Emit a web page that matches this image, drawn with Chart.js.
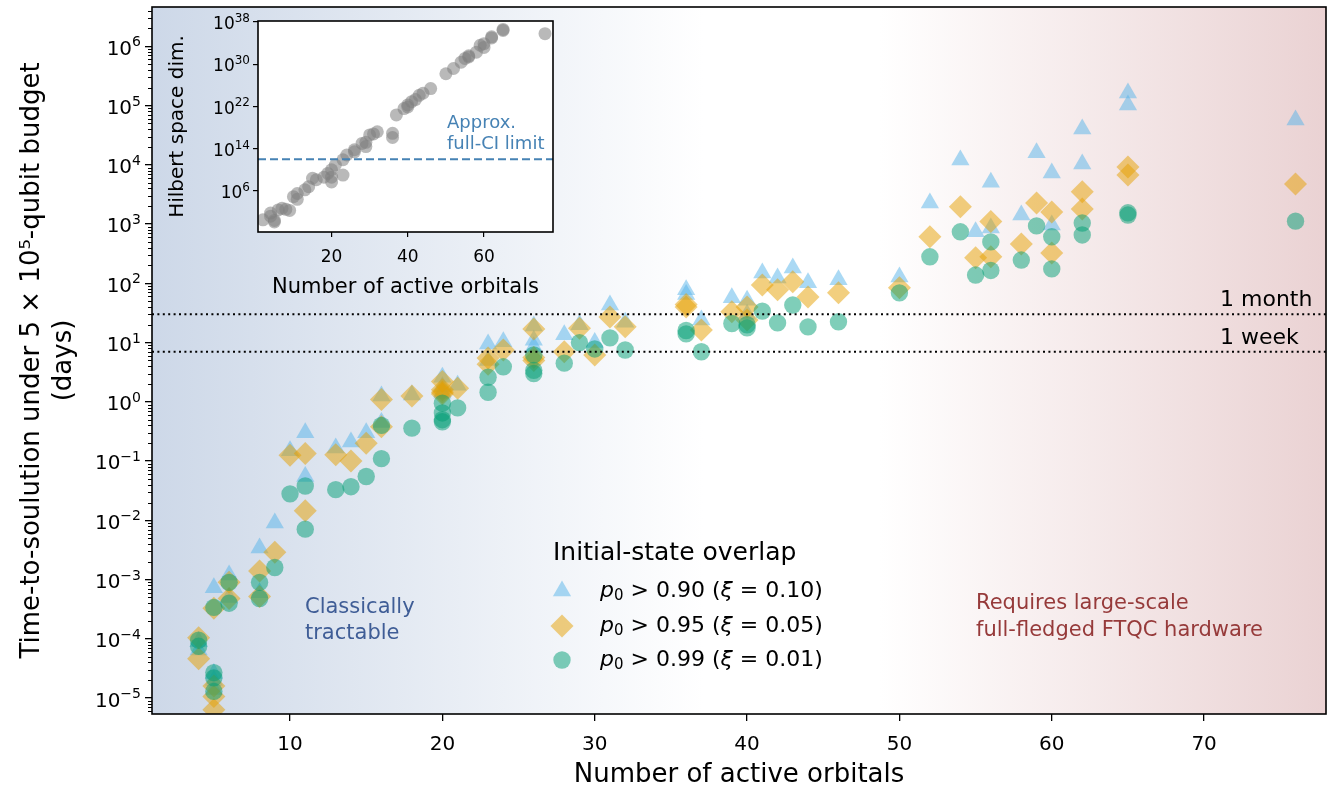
<!DOCTYPE html>
<html>
<head>
<meta charset="utf-8">
<title>Time-to-solution vs active orbitals</title>
<script src="https://cdn.jsdelivr.net/npm/chart.js@4.4.1/dist/chart.umd.min.js"></script>
<style>
    html, body { margin: 0; padding: 0; background: #fff; }
    #wrap { position: relative; width: 1330px; height: 789px; }
    #mainChart { position: absolute; left: 0; top: 0; }
    #insetChart { position: absolute; left: 150px; top: 0; }
</style>
</head>
<body>
<div id="wrap">
    <canvas id="mainChart" width="1330" height="789"></canvas>
    <canvas id="insetChart" width="420" height="310"></canvas>
</div>
<script>
// --- Данные: время до решения (дни) для каждой молекулы ---
const orbitals = [4, 4, 5, 5, 5, 5, 6, 6, 8, 8, 9, 10, 11, 11, 13, 14, 15, 16, 16, 18,
    20, 20, 20, 20, 21, 23, 23, 24, 26, 26, 26, 28, 29, 30, 31, 32, 36, 36, 37, 39,
    40, 40, 41, 42, 43, 44, 46, 50, 52, 54, 55, 56, 56, 58, 59, 60, 60, 62, 62, 65, 65, 76];
const tts90 = [9e-5, 6.5e-5, 7.3e-4, 2.6e-5, 2.0e-5, 1.4e-5, 1.2e-3, 5e-4, 3.4e-3, 6e-4, 9e-3, 0.15, 0.30, 0.055, 0.167, 0.21, 0.30, 1.25, 0.45, 1.3,
    2.6, 1.8, 1.5, 1.4, 1.9, 9.5, 5.0, 10.3, 19, 11, 8.5, 13.5, 20, 10, 43, 22, 78, 65, 24, 57,
    52, 30, 150, 123, 182, 102, 115, 128, 2270, 12000, 740, 5100, 860, 1420, 16000, 7300, 960, 40000, 10300, 162000, 102000, 57000];
const tts95 = [1.05e-4, 4.6e-5, 3.3e-4, 1.6e-5, 1.07e-5, 6.4e-6, 9e-4, 4.8e-4, 1.4e-3, 5.2e-4, 2.9e-3, 0.125, 0.135, 0.0145, 0.128, 0.10, 0.20, 1.1, 0.38, 1.25,
    2.2, 1.6, 1.45, 1.35, 1.7, 5.5, 4.3, 7.5, 17, 5.6, 5.0, 7.0, 17.5, 6.2, 27, 18.5, 44, 40, 16.3, 33,
    40, 24, 94, 78, 106, 59, 69, 84, 610, 1950, 270, 1100, 280, 460, 2270, 1600, 325, 3500, 1790, 9200, 6700, 4750];
const tts99 = [9.5e-5, 7.5e-5, 3.4e-4, 2.7e-5, 2.2e-5, 1.3e-5, 9e-4, 4e-4, 9e-4, 4.8e-4, 1.6e-3, 0.028, 0.038, 0.0071, 0.033, 0.037, 0.055, 0.40, 0.11, 0.36,
    0.95, 0.65, 0.50, 0.46, 0.79, 2.6, 1.45, 3.9, 6.2, 3.4, 3.0, 4.5, 10, 7.8, 12, 7.5, 16, 14, 7, 21,
    20, 17.7, 34, 21.5, 43, 18.4, 22.4, 69, 280, 740, 138, 500, 165, 247, 930, 610, 175, 1040, 655, 1550, 1420, 1120];

// Пороги перекрытия начального состояния (подписи легенды)
const overlapThresholds = ['0.90', '0.95', '0.99'];
const xiValues = ['0.10', '0.05', '0.01'];

// Опорные линии (дни)
const monthDays = 30;
const weekDays = 7;

// Деления осей
const xTickValues = [10, 20, 30, 40, 50, 60, 70];
const yTickValues = [1e-5, 1e-4, 1e-3, 1e-2, 1e-1, 1e0, 1e1, 1e2, 1e3, 1e4, 1e5, 1e6];
const yTickExponents = ['\u22125', '\u22124', '\u22123', '\u22122', '\u22121', '0', '1', '2', '3', '4', '5', '6'];

// --- Врезка: размерность гильбертова пространства ---
const insetOrbitals = [2, 4, 4, 5, 5, 6, 7, 8, 9, 10, 11, 11, 13, 14, 15, 16, 18, 19, 20, 20,
    20, 21, 23, 23, 24, 26, 26, 28, 29, 29, 30, 31, 32, 36, 36, 37, 39, 40, 40, 41,
    42, 43, 44, 46, 50, 52, 54, 55, 56, 56, 58, 59, 60, 60, 62, 62, 65, 65, 76];
const hilbertDim = [3.2e0, 6.3e1, 1.6e1, 1.3e0, 2.5e0, 2.5e2, 5e2, 3.2e2, 2e2, 8e4, 3.2e5, 2.5e4, 1.6e6, 6.3e6, 2.5e8, 1.3e8, 4e8, 2e9, 5e7, 4e8,
    1e10, 8e10, 1e9, 8e11, 6.3e12, 2.5e13, 6.3e13, 1e15, 2.5e14, 1.6e15, 4e16, 6.3e16, 1.6e17, 8e16, 1.3e16, 2.5e20, 4e21, 2e22, 8e21, 8e22,
    2e23, 1.3e24, 3.2e24, 2.5e25, 1.6e28, 1.6e29, 2.5e30, 1.3e31, 2.5e31, 4e31, 2e32, 4e33, 8e33, 1.6e33, 1.6e35, 1e35, 2.5e36, 4e36, 6.3e35];
const fullCiLimit = 1e12;
const insetXTicks = [20, 40, 60];
const insetYTicks = [1e6, 1e14, 1e22, 1e30, 1e38];
const insetYExponents = ['6', '14', '22', '30', '38'];

const FONT = "'DejaVu Sans', sans-serif";
const X_MIN = 0.94, X_MAX = 78.0;
const Y_MIN = 5.4e-6, Y_MAX = 4.6e6;

const COLOR_90 = 'rgba(86, 180, 233, 0.5)';
const COLOR_95 = 'rgba(230, 159, 0, 0.5)';
const COLOR_99 = 'rgba(0, 158, 115, 0.5)';

function toPoints(xs, ys) {
    return xs.map((x, i) => ({ x: x, y: ys[i] }));
}

// Текст из нескольких кусков (курсив, индекс)
function drawRuns(ctx, runs, x, y) {
    let cx = x;
    runs.forEach(r => {
        ctx.font = r.font;
        ctx.fillText(r.text, cx, y + (r.dy || 0));
        cx += ctx.measureText(r.text).width;
    });
}

// Подпись вида 10^n, выровненная по правому краю
function drawPowerLabel(ctx, exp, xRight, yTick, size) {
    const big = size + 'px ' + FONT;
    const small = Math.round(size * 0.7) + 'px ' + FONT;
    ctx.textAlign = 'left';
    ctx.textBaseline = 'alphabetic';
    ctx.font = small;
    const we = ctx.measureText(exp).width;
    ctx.font = big;
    const wb = ctx.measureText('10').width;
    const baseline = yTick + size * 0.42;
    ctx.fillText('10', xRight - we - wb, baseline);
    ctx.font = small;
    ctx.fillText(exp, xRight - we, baseline - size * 0.42);
}

// Убираем запас под крайние подписи, чтобы область графика была точной
function noScalePadding(s) {
    s.paddingLeft = 0;
    s.paddingRight = 0;
    s.paddingTop = 0;
    s.paddingBottom = 0;
}

// Фон: слева "классически решаемо", справа "нужен FTQC"
const shadingPlugin = {
    id: 'regionShading',
    beforeDraw(chart) {
        const { ctx, chartArea: a } = chart;
        const g = ctx.createLinearGradient(a.left, 0, a.right, 0);
        g.addColorStop(0, '#cdd8e8');
        g.addColorStop(0.47, '#ffffff');
        g.addColorStop(0.62, '#ffffff');
        g.addColorStop(1, '#ead2d3');
        ctx.save();
        ctx.fillStyle = g;
        ctx.fillRect(a.left, a.top, a.width, a.height);
        ctx.restore();
    }
};

const mainDecorPlugin = {
    id: 'mainDecor',
    afterDraw(chart) {
        const { ctx, chartArea: a, scales } = chart;
        const y = scales.y;
        ctx.save();

        // малые деления логарифмической оси
        ctx.strokeStyle = '#000';
        ctx.lineWidth = 1;
        ctx.beginPath();
        for (let e = -6; e <= 6; e++) {
            for (let m = 2; m <= 9; m++) {
                const v = m * Math.pow(10, e);
                if (v < Y_MIN || v > Y_MAX) continue;
                const py = Math.round(y.getPixelForValue(v)) + 0.5;
                ctx.moveTo(a.left - 4, py);
                ctx.lineTo(a.left, py);
            }
        }
        ctx.stroke();

        // подписи делений оси Y
        ctx.fillStyle = '#000';
        yTickValues.forEach((v, i) => {
            drawPowerLabel(ctx, yTickExponents[i], a.left - 11, y.getPixelForValue(v), 20);
        });

        // рамка
        ctx.lineWidth = 1.6;
        ctx.strokeRect(a.left, a.top, a.width, a.height);

        // подписи опорных линий
        ctx.fillStyle = '#000';
        ctx.font = '22px ' + FONT;
        ctx.textAlign = 'left';
        ctx.textBaseline = 'middle';
        ctx.fillText('1 month', 1220, 300);
        ctx.fillText('1 week', 1220, 338);

        // области
        ctx.font = '21px ' + FONT;
        ctx.fillStyle = '#3f5d96';
        ctx.fillText('Classically', 305, 608);
        ctx.fillText('tractable', 305, 634);
        ctx.fillStyle = '#963a3a';
        ctx.fillText('Requires large-scale', 976, 604);
        ctx.fillText('full-fledged FTQC hardware', 976, 631);

        // легенда
        ctx.fillStyle = '#000';
        ctx.font = '25px ' + FONT;
        ctx.fillText('Initial-state overlap', 553, 553);
        const styles = [
            { pointStyle: 'triangle', radius: 10.5, color: COLOR_90 },
            { pointStyle: 'rectRot', radius: 11.5, color: COLOR_95 },
            { pointStyle: 'circle', radius: 8.7, color: COLOR_99 }
        ];
        const rowsY = [591, 626, 660];
        styles.forEach((s, i) => {
            ctx.fillStyle = s.color;
            Chart.helpers.drawPoint(ctx, { pointStyle: s.pointStyle, radius: s.radius, borderWidth: 0, rotation: 0 }, 562, rowsY[i]);
            ctx.fillStyle = '#000';
            drawRuns(ctx, [
                { text: 'p', font: 'italic 22px ' + FONT },
                { text: '0', font: '15px ' + FONT, dy: 5 },
                { text: ' > ' + overlapThresholds[i] + ' (', font: '22px ' + FONT },
                { text: 'ξ', font: 'italic 22px ' + FONT },
                { text: ' = ' + xiValues[i] + ')', font: '22px ' + FONT }
            ], 600, rowsY[i]);
        });

        // заголовки осей
        ctx.fillStyle = '#000';
        ctx.font = '26px ' + FONT;
        ctx.textAlign = 'center';
        ctx.textBaseline = 'middle';
        ctx.fillText('Number of active orbitals', (a.left + a.right) / 2, 775);
        ctx.translate(0, (a.top + a.bottom) / 2);
        ctx.rotate(-Math.PI / 2);
        ctx.fillText('Time-to-soulution under 5 × 10⁵-qubit budget', 0, 32);
        ctx.fillText('(days)', 0, 64);
        ctx.restore();
    }
};

const mainChart = new Chart(document.getElementById('mainChart').getContext('2d'), {
    type: 'scatter',
    data: {
        datasets: [
            {
                label: '1 month',
                data: [{ x: X_MIN, y: monthDays }, { x: X_MAX, y: monthDays }],
                showLine: true, borderColor: '#000', borderWidth: 2, borderDash: [2, 3.4], pointRadius: 0
            },
            {
                label: '1 week',
                data: [{ x: X_MIN, y: weekDays }, { x: X_MAX, y: weekDays }],
                showLine: true, borderColor: '#000', borderWidth: 2, borderDash: [2, 3.4], pointRadius: 0
            },
            {
                label: 'p0 > 0.99',
                data: toPoints(orbitals, tts99),
                pointStyle: 'circle', pointRadius: 8.7, backgroundColor: COLOR_99, borderWidth: 0
            },
            {
                label: 'p0 > 0.95',
                data: toPoints(orbitals, tts95),
                pointStyle: 'rectRot', pointRadius: 11.5, backgroundColor: COLOR_95, borderWidth: 0
            },
            {
                label: 'p0 > 0.90',
                data: toPoints(orbitals, tts90),
                pointStyle: 'triangle', pointRadius: 10.5, backgroundColor: COLOR_90, borderWidth: 0
            }
        ]
    },
    options: {
        responsive: false,
        animation: false,
        events: [],
        layout: { autoPadding: false, padding: { top: 7, right: 4, left: 0, bottom: 0 } },
        plugins: { legend: { display: false }, tooltip: { enabled: false } },
        scales: {
            x: {
                type: 'linear', min: X_MIN, max: X_MAX,
                afterBuildTicks: s => { s.ticks = xTickValues.map(v => ({ value: v })); },
                afterFit: s => { s.height = 75; noScalePadding(s); },
                grid: { drawOnChartArea: false, drawTicks: true, tickLength: 7, color: '#000', lineWidth: 1.3 },
                border: { display: false },
                ticks: { color: '#000', font: { family: FONT, size: 20 }, padding: 12, maxRotation: 0, autoSkip: false }
            },
            y: {
                type: 'logarithmic', min: Y_MIN, max: Y_MAX,
                afterBuildTicks: s => { s.ticks = yTickValues.map(v => ({ value: v, major: true })); },
                afterFit: s => { s.width = 152; noScalePadding(s); },
                grid: { drawOnChartArea: false, drawTicks: true, tickLength: 7, color: '#000', lineWidth: 1.3 },
                border: { display: false },
                ticks: { display: false }
            }
        }
    },
    plugins: [shadingPlugin, mainDecorPlugin]
});

// --- Врезка ---
const insetDecorPlugin = {
    id: 'insetDecor',
    beforeDraw(chart) {
        const { ctx, chartArea: a } = chart;
        ctx.save();
        ctx.fillStyle = '#fff';
        ctx.fillRect(a.left, a.top, a.width, a.height);
        ctx.restore();
    },
    afterDraw(chart) {
        const { ctx, chartArea: a, scales } = chart;
        ctx.save();
        ctx.fillStyle = '#000';
        insetYTicks.forEach((v, i) => {
            drawPowerLabel(ctx, insetYExponents[i], a.left - 8, scales.y.getPixelForValue(v), 17);
        });

        ctx.strokeStyle = '#000';
        ctx.lineWidth = 1.6;
        ctx.strokeRect(a.left, a.top, a.width, a.height);

        ctx.fillStyle = '#4682b4';
        ctx.font = '18px ' + FONT;
        ctx.textAlign = 'left';
        ctx.textBaseline = 'middle';
        ctx.fillText('Approx.', 297, 123);
        ctx.fillText('full-CI limit', 297, 144);

        ctx.fillStyle = '#000';
        ctx.font = '21px ' + FONT;
        ctx.textAlign = 'center';
        ctx.fillText('Number of active orbitals', (a.left + a.right) / 2, 288);
        ctx.font = '20px ' + FONT;
        ctx.translate(28, (a.top + a.bottom) / 2);
        ctx.rotate(-Math.PI / 2);
        ctx.fillText('Hilbert space dim.', 0, 0);
        ctx.restore();
    }
};

const insetChart = new Chart(document.getElementById('insetChart').getContext('2d'), {
    type: 'scatter',
    data: {
        datasets: [
            {
                label: 'full-CI limit',
                data: [{ x: 0.7, y: fullCiLimit }, { x: 78.1, y: fullCiLimit }],
                showLine: true, borderColor: '#4682b4', borderWidth: 2, borderDash: [8, 4], pointRadius: 0
            },
            {
                label: 'Hilbert space dim.',
                data: toPoints(insetOrbitals, hilbertDim),
                pointStyle: 'circle', pointRadius: 6.5, backgroundColor: 'rgba(128, 128, 128, 0.55)', borderWidth: 0
            }
        ]
    },
    options: {
        responsive: false,
        animation: false,
        events: [],
        layout: { autoPadding: false, padding: { top: 21, right: 17, left: 0, bottom: 0 } },
        plugins: { legend: { display: false }, tooltip: { enabled: false } },
        scales: {
            x: {
                type: 'linear', min: 0.7, max: 78.1,
                afterBuildTicks: s => { s.ticks = insetXTicks.map(v => ({ value: v })); },
                afterFit: s => { s.height = 78; noScalePadding(s); },
                grid: { drawOnChartArea: false, drawTicks: true, tickLength: 5, color: '#000', lineWidth: 1.2 },
                border: { display: false },
                ticks: { color: '#000', font: { family: FONT, size: 17 }, padding: 10, maxRotation: 0, autoSkip: false }
            },
            y: {
                type: 'logarithmic', min: 1.6e-2, max: 1.6e38,
                afterBuildTicks: s => { s.ticks = insetYTicks.map(v => ({ value: v, major: true })); },
                afterFit: s => { s.width = 108; noScalePadding(s); },
                grid: { drawOnChartArea: false, drawTicks: true, tickLength: 5, color: '#000', lineWidth: 1.2 },
                border: { display: false },
                ticks: { display: false }
            }
        }
    },
    plugins: [insetDecorPlugin]
});
</script>
</body>
</html>
